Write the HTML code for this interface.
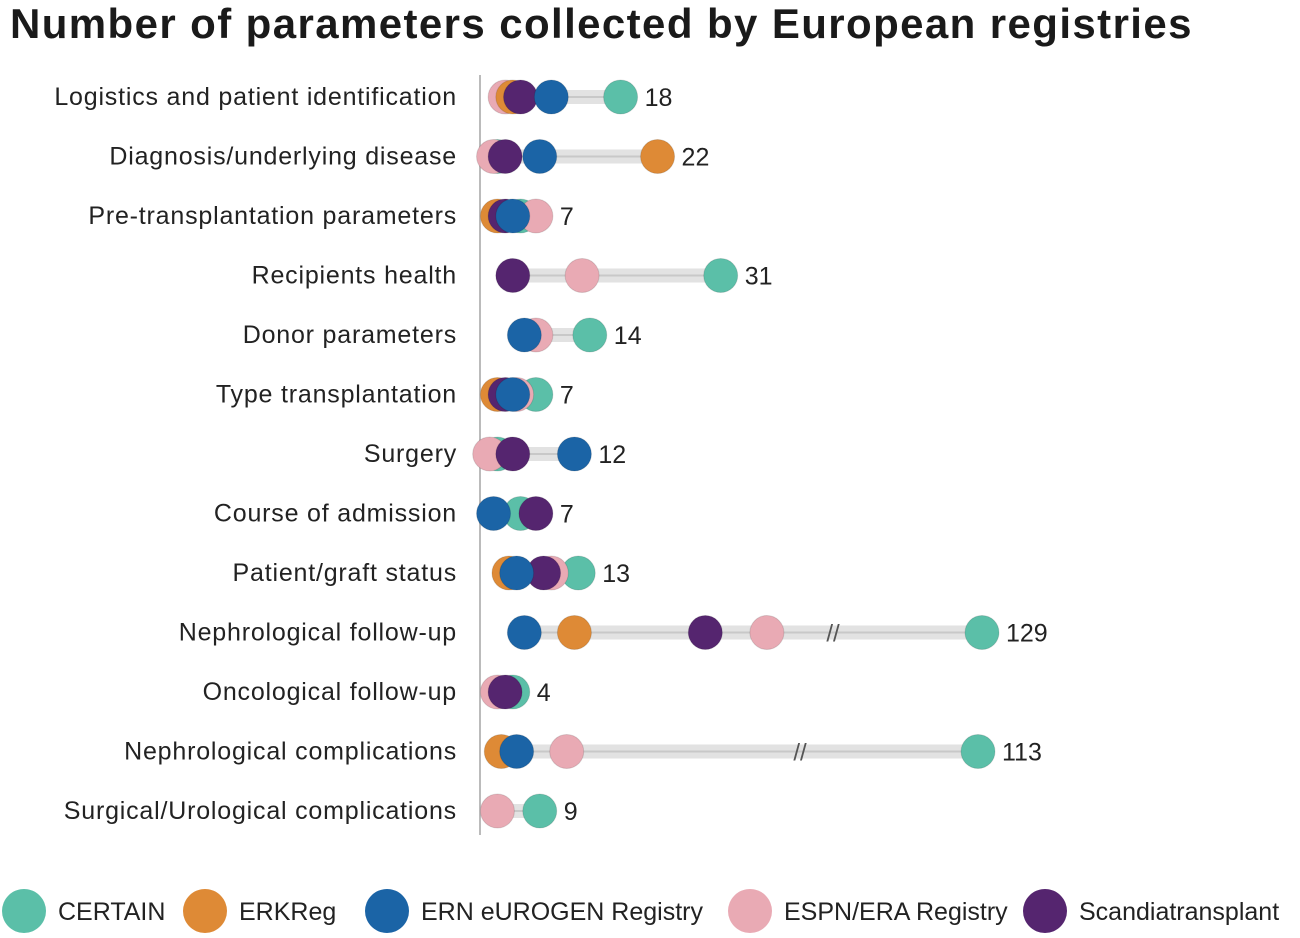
<!DOCTYPE html>
<html><head><meta charset="utf-8"><style>
body{margin:0;background:#fff;width:1300px;height:938px;overflow:hidden;font-family:"Liberation Sans",sans-serif}
h1{position:absolute;left:10px;top:0;margin:0;font-size:42px;font-weight:bold;color:#1a1a1a;letter-spacing:1.4px;white-space:nowrap}
</style></head><body>
<h1>Number of parameters collected by European registries</h1>
<svg id="c" width="1300" height="938" style="position:absolute;left:0;top:0"></svg>
<script>
const categories=["Logistics and patient identification","Diagnosis/underlying disease","Pre-transplantation parameters","Recipients health","Donor parameters","Type transplantation","Surgery","Course of admission","Patient/graft status","Nephrological follow-up","Oncological follow-up","Nephrological complications","Surgical/Urological complications"];
const certain=[18,2,5,31,14,7,2,5,12.5,129,4,113,7.5];
const erkreg=[4,22.8,2,null,null,2,null,null,3.5,12,null,2.5,null];
const eurogen=[9,7.5,4,null,5.5,4,12,1.5,4.5,5.5,null,4.5,null];
const espn=[3,1.5,7,13,7,4.5,1,null,9,37,2,11,2];
const scandia=[5,3,3,4,null,3,4,7,8,29,3,null,null];
const totals=[18,22,7,31,14,7,12,7,13,129,4,113,9];
const seriesNames=["CERTAIN","ERKReg","ERN eUROGEN Registry","ESPN/ERA Registry","Scandiatransplant"];
const colors={certain:"#5bbfa8",erkreg:"#de8a36",eurogen:"#1b64a6",espn:"#e9aab4",scandia:"#55256f"};
const svg=document.getElementById('c');const NS="http://www.w3.org/2000/svg";
function x(v){return v>60?980+(v-121)*0.25:482+7.7*v;}
function y(i){return 97+i*59.5;}
function mk(t,a,p){const e=document.createElementNS(NS,t);for(const k in a)e.setAttribute(k,a[k]);(p||svg).appendChild(e);return e;}
const ax=mk('line',{x1:480,y1:75,x2:480,y2:835,stroke:'#bbb','stroke-width':2});


const order=[["certain",certain],["espn",espn],["erkreg",erkreg],["scandia",scandia],["eurogen",eurogen]];
categories.forEach((c,i)=>{
 const vals=order.map(o=>o[1][i]).filter(v=>v!=null);
 const mn=Math.min(...vals),mx=Math.max(...vals);
 const g=mk('g',{});
 
 
 const lb=mk('text',{x:457,y:y(i)+8,'text-anchor':'end','font-size':25,'letter-spacing':0.8,fill:'#222'},g);lb.textContent=c;
 
 
 const bar=mk('rect',{x:x(mn),y:y(i)-7,width:x(mx)-x(mn),height:14,fill:'#e2e2e2'},g);
 
 
 mk('line',{x1:x(mn),x2:x(mx),y1:y(i),y2:y(i),stroke:'#c8c8c8','stroke-width':2},g);
 if(mx>60){const bx=x(mx)>975?(i==9?833:800):0;const bk=mk('text',{x:bx,y:y(i)+9,'font-size':24,fill:'#555','text-anchor':'middle'},g);bk.textContent="//";
  
  }
 order.forEach(([k,arr])=>{const v=arr[i];if(v==null)return;
  const d=mk('circle',{cx:x(v),cy:y(i),r:17,fill:colors[k],stroke:'rgba(0,0,0,0.12)','stroke-width':1},g);
  
  });
 const t=mk('text',{x:x(mx)+24,y:y(i)+9,'font-size':25,fill:'#222'},g);t.textContent=totals[i];
 
 
});
const lx=[24,205,387,750,1045],keys=["certain","erkreg","eurogen","espn","scandia"];
keys.forEach((k,j)=>{
 const g=mk('g',{});
 
 
 mk('circle',{cx:lx[j],cy:911,r:22,fill:colors[k]},g);
 const t=mk('text',{x:lx[j]+34,y:920,'font-size':25,fill:'#222'},g);t.textContent=seriesNames[j];
});
</script>
</body></html>
